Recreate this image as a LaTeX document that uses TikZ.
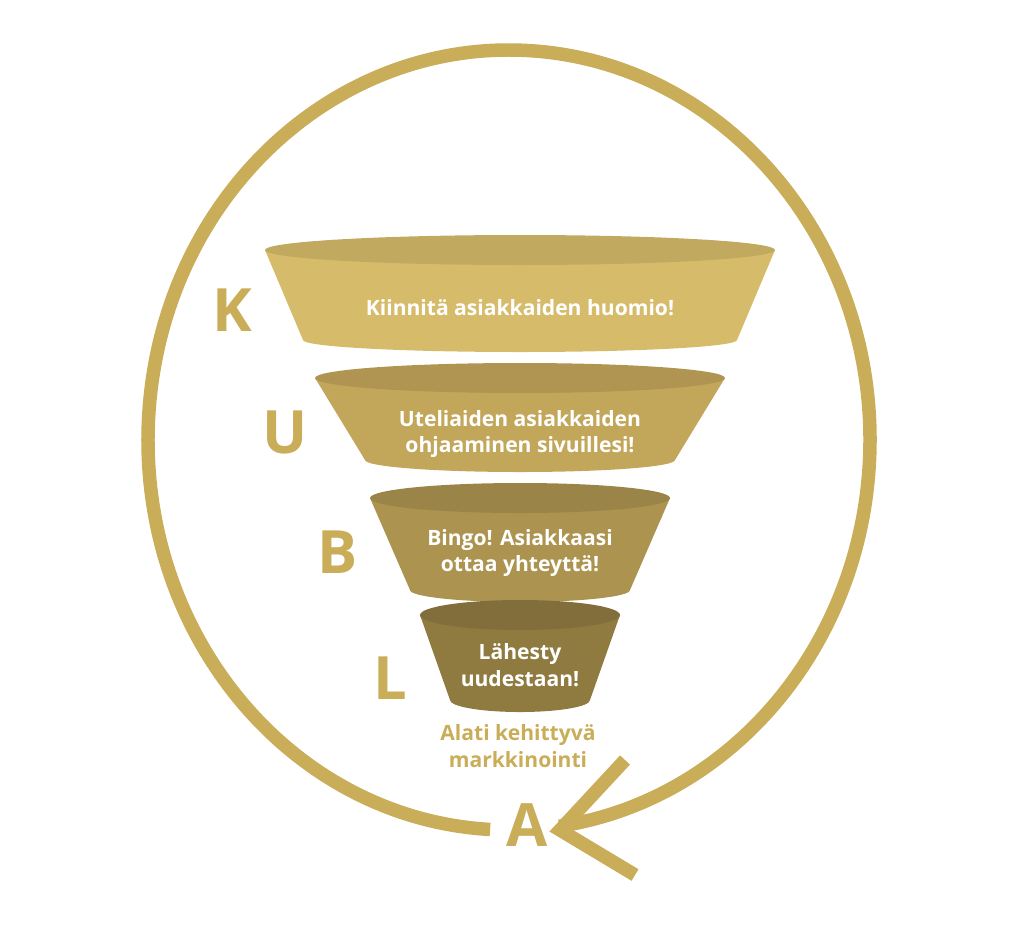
\documentclass[tikz,border=0pt]{standalone}
\usepackage{fontspec}
\setmainfont{Open Sans}
\usetikzlibrary{positioning,calc}
\definecolor{gold}{HTML}{C9AD58}
\definecolor{goldA}{HTML}{D6BC6A}
\definecolor{goldB}{HTML}{C2A65A}
\definecolor{goldC}{HTML}{AC934F}
\definecolor{goldD}{HTML}{8F7A40}
\begin{document}
\begin{tikzpicture}[x=0.02cm,y=-0.02cm,
    letter/.style={text=gold, font=\bfseries\fontsize{34}{34}\selectfont},
    funneltext/.style={text=white, align=center, font=\bfseries\fontsize{12}{15}\selectfont},
    ring/.style={draw=gold, line width=0.27cm}
    ]
    \useasboundingbox (0,0) rectangle (1024,924);
    % --- funnel pieces: (top y, top rx, bottom y, bottom rx, colour) ---
    \foreach \ty/\trx/\by/\brx/\col in {250/255/340/217/goldA, 378/205/460/155/goldB, 498/150/590/110/goldC, 615/100/700/70/goldD}{
        \fill[\col] (520-\trx,\ty) -- (520-\brx,\by) arc[start angle=180,end angle=360,x radius=\brx,y radius=-12]
            -- (520+\trx,\ty) -- cycle;
        \fill[\col!90!black] (520,\ty) ellipse[x radius=\trx, y radius=15];
    }
    % --- texts ---
    \node[funneltext] (t1) at (520,308) {Kiinnitä asiakkaiden huomio!};
    \node[funneltext] (t2) at (520,434) {Uteliaiden asiakkaiden\\ohjaaminen sivuillesi!};
    \node[funneltext] (t3) at (520,553) {Bingo! Asiakkaasi\\ottaa yhteyttä!};
    \node[funneltext] (t4) at (520,665) {Lähesty\\uudestaan!};
    \node[text=gold, align=center, font=\bfseries\fontsize{12}{15}\selectfont] (ak) at (518,746) {Alati kehittyvä\\markkinointi};
    % --- letters ---
    \node[letter] (k) at (232,310) {K};
    \node[letter] (u) at (285,432) {U};
    \node[letter] (b) at (338,552) {B};
    \node[letter] (l) at (390,678) {L};
    \node[letter] (a) at (527,825) {A};
    % --- ring with arrow ---
    \draw[ring] (509,440) ++(267:361 and -390) arc[start angle=267,end angle=-82,x radius=361,y radius=-390];
    \draw[ring, line join=miter] (625,760) -- (560,830) -- (635,875);
\end{tikzpicture}
\end{document}
